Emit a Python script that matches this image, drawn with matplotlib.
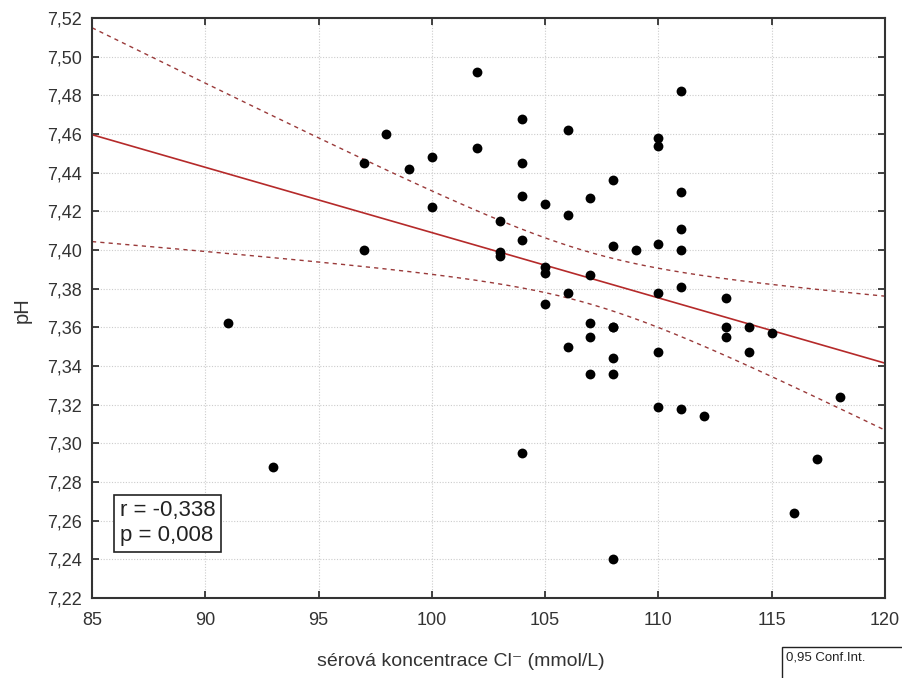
import numpy as np
import matplotlib
matplotlib.use("Agg")
import matplotlib.pyplot as plt
from matplotlib.ticker import FuncFormatter
from matplotlib.patches import Rectangle

plt.rcParams['font.family'] = ['Liberation Sans', 'DejaVu Sans']

# serum chloride (mmol/L) and pH
cl = [91, 93, 97, 97, 98, 99, 100, 100, 102, 102,
      103, 103, 103,
      104, 104, 104, 104, 104,
      105, 105, 105, 105,
      106, 106, 106, 106,
      107, 107, 107, 107, 107,
      108, 108, 108, 108, 108, 108, 108,
      109,
      110, 110, 110, 110, 110, 110,
      111, 111, 111, 111, 111, 111,
      112, 113, 113, 113, 114, 114, 115, 116, 117, 118]
ph = [7.362, 7.288, 7.445, 7.400, 7.460, 7.442, 7.448, 7.422, 7.492, 7.453,
      7.415, 7.399, 7.397,
      7.468, 7.445, 7.428, 7.405, 7.295,
      7.424, 7.391, 7.388, 7.372,
      7.462, 7.418, 7.378, 7.350,
      7.427, 7.387, 7.362, 7.355, 7.336,
      7.436, 7.402, 7.360, 7.344, 7.336, 7.240, 7.360,
      7.400,
      7.458, 7.454, 7.403, 7.378, 7.347, 7.319,
      7.482, 7.430, 7.411, 7.400, 7.381, 7.318,
      7.314, 7.375, 7.360, 7.355, 7.360, 7.347, 7.357, 7.264, 7.292, 7.324]

x_ticks = [85, 90, 95, 100, 105, 110, 115, 120]
y_ticks = np.arange(7.22, 7.5201, 0.02)

cl = np.array(cl, dtype=float)
ph = np.array(ph)
n = len(cl)

# linear fit and 95% confidence band for the mean
b, a = np.polyfit(cl, ph, 1)
res = ph - (a + b * cl)
s = np.sqrt(np.sum(res**2) / (n - 2))
xm = cl.mean()
sxx = np.sum((cl - xm)**2)
t_crit = 2.001  # t(0.975, 59)
xs = np.linspace(85, 120, 200)
yfit = a + b * xs
half = t_crit * s * np.sqrt(1.0 / n + (xs - xm)**2 / sxx)

fig = plt.figure(figsize=(9.03, 6.78), dpi=100)
ax = fig.add_axes([0.1019, 0.118, 0.878, 0.8555])

ax.plot(xs, yfit, color="#b52a2a", lw=1.2, zorder=2)
ax.plot(xs, yfit + half, color="#9a3a3a", lw=1.0, ls=(0, (3, 3)), zorder=2)
ax.plot(xs, yfit - half, color="#9a3a3a", lw=1.0, ls=(0, (3, 3)), zorder=2)
ax.scatter(cl, ph, s=50, color="black", zorder=3, linewidths=0)

ax.set_xlim(85, 120)
ax.set_ylim(7.22, 7.52)
ax.set_xticks(x_ticks)
ax.set_yticks(y_ticks)
ax.yaxis.set_major_formatter(FuncFormatter(lambda v, p: f"{v:.2f}".replace(".", ",")))
ax.grid(True, color="#cccccc", ls=(0, (1, 1.5)), lw=0.8)
ax.set_axisbelow(True)
ax.tick_params(direction="in", length=5, width=1.2, color="#222222",
               labelsize=13, labelcolor="#333333", top=True, right=True,
               labeltop=False, labelright=False)
ax.tick_params(axis="x", pad=10)
ax.tick_params(axis="y", pad=7)
for sp in ax.spines.values():
    sp.set_linewidth(1.5)
    sp.set_color("#333333")

ax.set_xlabel("sérová koncentrace Cl\u207b (mmol/L)", fontsize=14, color="#333333",
              va="center", ha="center")
ax.xaxis.set_label_coords(0.465, -0.110)
ax.set_ylabel("pH", fontsize=14.5, color="#333333", va="center", ha="center")
ax.yaxis.set_label_coords(-0.0885, 0.497)

ax.text(0.035, 0.129, "r = -0,338\np = 0,008", transform=ax.transAxes,
        fontsize=16, color="#222222", va="center", ha="left", linespacing=1.25,
        bbox=dict(boxstyle="square,pad=0.25", fc="white", ec="#222222", lw=1.2))

# legend stub in the lower right corner, cut by the image edge
fig.patches.append(Rectangle((782 / 903, -0.05), 0.3, (678 - 647) / 678 + 0.05,
                             transform=fig.transFigure, fc="white", ec="#222222", lw=1.0))
fig.text(786 / 903, 1 - 658 / 678, "0,95 Conf.Int.", fontsize=9.5, color="#222222",
         va="center", ha="left")

fig.savefig("out.png", dpi=100)
